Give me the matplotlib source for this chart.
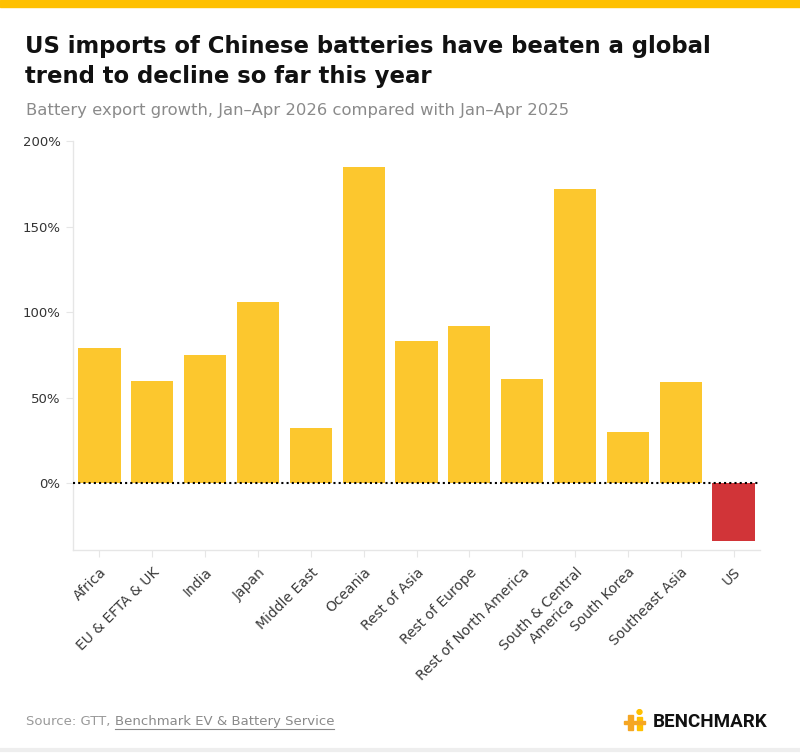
import matplotlib.pyplot as plt
import matplotlib.patches as mpatches
import numpy as np

plt.rcParams['font.family'] = ['DejaVu Sans']

regions = ["Africa", "EU & EFTA & UK", "India", "Japan", "Middle East", "Oceania",
           "Rest of Asia", "Rest of Europe", "Rest of North America",
           "South & Central\nAmerica", "South Korea", "Southeast Asia", "US"]
growth = [79, 60, 75, 106, 32, 185, 83, 92, 61, 172, 30, 59, -34]

yellow = "#FCC72E"
red = "#D13438"
colors = [red if v < 0 else yellow for v in growth]

fig = plt.figure(figsize=(8, 7.53), dpi=100)
W, H = 800, 753

# top band
fig.patches.append(mpatches.Rectangle((0, 1 - 7 / H), 1, 7 / H, transform=fig.transFigure,
                                      color="#FFC000", zorder=0))

fig.text(25 / W, 1 - 46 / H, "US imports of Chinese batteries have beaten a global",
         fontsize=16.4, fontweight="bold", color="#111111", va="center")
fig.text(25 / W, 1 - 76 / H, "trend to decline so far this year",
         fontsize=16.4, fontweight="bold", color="#111111", va="center")
fig.text(26 / W, 1 - 111 / H, "Battery export growth, Jan–Apr 2026 compared with Jan–Apr 2025",
         fontsize=11.8, color="#8a8a8a", va="center")

ax = fig.add_axes([73 / W, 1 - 550 / H, (760 - 73) / W, (550 - 141) / H])
x = np.arange(len(regions))
ax.bar(x, growth, width=0.8, color=colors, zorder=2)
ax.axhline(0, color="black", linestyle=(0, (1, 1.5)), linewidth=1.5, zorder=3)

ax.set_xlim(-0.5, len(regions) - 0.5)
ax.set_ylim(-39, 200)
ax.set_yticks([0, 50, 100, 150, 200])
ax.set_yticklabels(["0%", "50%", "100%", "150%", "200%"], fontsize=9.5, color="#333333")
ax.set_xticks(x)
ax.set_xticklabels(regions, rotation=45, ha="right", rotation_mode="anchor",
                   fontsize=10, color="#3a3a3a", multialignment="center")
ax.tick_params(axis="y", length=5, color="#e6e6e6", pad=4)
ax.tick_params(axis="x", length=5, color="#e6e6e6", pad=6)
for s in ["top", "right"]:
    ax.spines[s].set_visible(False)
for s in ["left", "bottom"]:
    ax.spines[s].set_color("#e6e6e6")
    ax.spines[s].set_linewidth(1)

# footer
src = fig.text(26 / W, 1 - 721 / H, "Source: GTT, ", fontsize=9.5, color="#9a9a9a", va="center")
fig.canvas.draw()
r = fig.canvas.get_renderer()
bb = src.get_window_extent(r)
link = fig.text(bb.x1 / W, 1 - 721 / H, "Benchmark EV & Battery Service", fontsize=9.5,
                color="#8a8a8a", va="center")
lb = link.get_window_extent(r)
fig.lines.append(plt.Line2D([lb.x0 / W, lb.x1 / W], [1 - 729 / H, 1 - 729 / H],
                            transform=fig.transFigure, color="#8a8a8a", linewidth=0.8))

# logo
fig.text(767 / W, 1 - 722 / H, "BENCHMARK", fontsize=13.5, fontweight="bold", color="#111111",
         ha="right", va="center", family=["Roboto", "DejaVu Sans"])
fig.patches.append(mpatches.Rectangle((628 / W, 1 - 730 / H), 5 / W, 15 / H,
                                      transform=fig.transFigure, color="#F5A623"))
fig.patches.append(mpatches.Rectangle((637 / W, 1 - 730 / H), 5 / W, 13 / H,
                                      transform=fig.transFigure, color="#FFC000"))
fig.patches.append(mpatches.Circle((639.5 / W, 1 - 712 / H), 2.5 / W,
                                   transform=fig.transFigure, color="#FFC000"))
fig.patches.append(mpatches.Rectangle((624 / W, 1 - 724 / H), 21 / W, 3 / H,
                                      transform=fig.transFigure, color="#F5A623"))

fig.lines.append(plt.Line2D([0, 1], [1 - 750 / H, 1 - 750 / H], transform=fig.transFigure,
                            color="#eeeeee", linewidth=3))

fig.savefig("out.png", dpi=100)
